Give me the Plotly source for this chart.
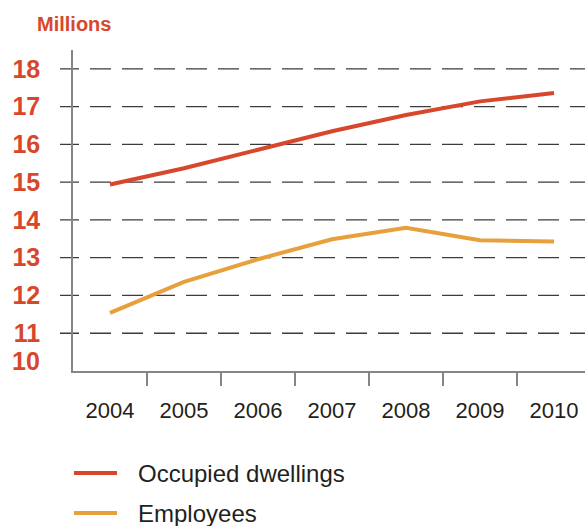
import plotly.graph_objects as go

years = ["2004", "2005", "2006", "2007", "2008", "2009", "2010"]
dwellings = [14.94, 15.37, 15.86, 16.35, 16.78, 17.14, 17.36]
employees = [11.54, 12.36, 12.96, 13.49, 13.79, 13.46, 13.43]
series_names = ["Occupied dwellings", "Employees"]
y_ticks = [11, 12, 13, 14, 15, 16, 17, 18]
y_bottom_label = 10
y_title = "Millions"

RED = "#D8472C"
ORANGE = "#E8A03C"
TXT = "#231F20"
AXC = "#858585"
FONT = "Liberation Sans"

W, H = 585, 526
L, R, T, B = 73, 0, 50, 155
pw = W - L - R
ph = H - T - B

xs = list(range(len(years)))

fig = go.Figure()
fig.add_trace(go.Scatter(x=xs, y=dwellings, mode="lines", name=series_names[0],
                         line=dict(color=RED, width=4), showlegend=False))
fig.add_trace(go.Scatter(x=xs, y=employees, mode="lines", name=series_names[1],
                         line=dict(color=ORANGE, width=4), showlegend=False))

# dashed gridlines (start with a tick stub left of the axis)
dash = "19px,11px," + ",".join(["21px,11px"] * 18)
for v in y_ticks:
    fig.add_shape(type="line", xref="paper", yref="y",
                  x0=-13 / pw, x1=1, y0=v, y1=v,
                  line=dict(color="#3c3c3c", width=1.3, dash=dash), layer="below")

annotations = []
# bottom y label, nudged up above the axis line
annotations.append(dict(x=-31 / pw, y=y_bottom_label, xref="paper", yref="y",
                        text=str(y_bottom_label), showarrow=False, xanchor="right",
                        yanchor="middle", yshift=10,
                        font=dict(family=FONT, size=25, color=RED, weight="bold")))
# axis title
annotations.append(dict(x=(35 - L) / pw, y=(T + ph - 24) / ph, xref="paper", yref="paper",
                        text="<b>%s</b>" % y_title, showarrow=False, xanchor="left",
                        yanchor="middle",
                        font=dict(family=FONT, size=20, color=RED)))

# manual legend
colors = [RED, ORANGE]
leg_y = [473, 513]
for name, c, yy in zip(series_names, colors, leg_y):
    yp = (T + ph - yy) / ph
    fig.add_shape(type="line", xref="paper", yref="paper",
                  x0=(74 - L) / pw, x1=(117 - L) / pw, y0=yp, y1=yp,
                  line=dict(color=c, width=4))
    annotations.append(dict(x=(136 - L) / pw, y=yp, xref="paper", yref="paper",
                            text=name, showarrow=False, xanchor="left", yanchor="middle",
                            font=dict(family=FONT, size=24, color=TXT)))

fig.update_layout(
    width=W, height=H,
    margin=dict(l=L, r=R, t=T, b=B),
    paper_bgcolor="white", plot_bgcolor="white",
    annotations=annotations,
    xaxis=dict(
        range=[-0.5, -0.5 + pw / 74.0],
        tickvals=xs, ticktext=years,
        ticks="", showgrid=False, zeroline=False,
        showline=True, linecolor=AXC, linewidth=1.5,
        tickfont=dict(family=FONT, size=22, color=TXT),
        ticklabelstandoff=19,
        minor=dict(tickvals=[i + 0.5 for i in xs[:-1]], ticks="outside",
                   ticklen=13, tickwidth=1.5, tickcolor=AXC, showgrid=False),
    ),
    yaxis=dict(
        range=[10, 18.5],
        tickvals=y_ticks, ticktext=[str(v) for v in y_ticks],
        ticks="", showgrid=False, zeroline=False,
        showline=True, linecolor=AXC, linewidth=1.5,
        tickfont=dict(family=FONT, size=25, color=RED, weight="bold"),
        ticklabelstandoff=26,
    ),
)

fig.write_html("out.html", config={"displayModeBar": False},
               post_script="document.body.style.margin='0';")
